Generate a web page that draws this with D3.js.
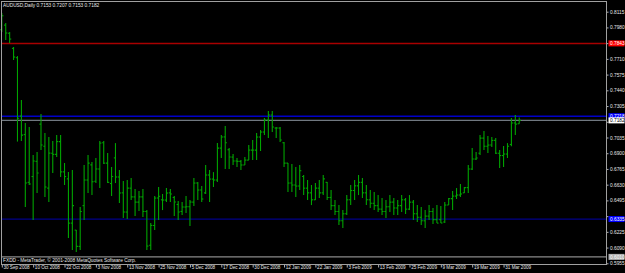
<!DOCTYPE html>
<html lang="en">
<head>
<meta charset="UTF-8">
<title>AUDUSD Daily</title>
<script src="https://d3js.org/d3.v7.min.js"></script>
<style>
    body { margin: 0; background: #000; }
    svg { display: block; }
    text { font-family: "Liberation Sans", Arial, sans-serif; font-size: 4.8px; fill: #e8e8e8; }
</style>
</head>
<body>
<svg width="625" height="273"></svg>
<script>
// daily bars, 30 Sep 2008 .. 6 Apr 2009 (weekdays, no 25 Dec / 1 Jan)
const opens = [
  0.7960,0.8000,0.7930,0.7800,0.7720,0.7219,0.7060,0.6650,0.6700,0.6830,
  0.7150,0.6960,0.6600,0.6900,0.6890,0.7000,0.6740,0.6680,0.6300,0.6240,
  0.6100,0.6450,0.6670,0.6800,0.6660,0.6765,0.6990,0.6815,0.6640,0.6860,
  0.6696,0.6560,0.6395,0.6600,0.6525,0.6480,0.6525,0.6400,0.6110,0.6280,
  0.6515,0.6500,0.6498,0.6560,0.6520,0.6460,0.6400,0.6438,0.6440,0.6480,
  0.6644,0.6584,0.6560,0.6713,0.6678,0.6670,0.6944,0.7040,0.6930,0.6867,
  0.6833,0.6830,0.6799,0.6841,0.6927,0.6927,0.7039,0.7082,0.7185,0.7228,
  0.7116,0.7116,0.6990,0.6815,0.6644,0.6627,0.6618,0.6700,0.6600,0.6560,
  0.6500,0.6600,0.6560,0.6650,0.6520,0.6450,0.6400,0.6320,0.6380,0.6500,
  0.6580,0.6620,0.6650,0.6560,0.6500,0.6470,0.6450,0.6420,0.6400,0.6440,
  0.6480,0.6430,0.6450,0.6500,0.6420,0.6480,0.6380,0.6350,0.6320,0.6360,
  0.6400,0.6330,0.6330,0.6310,0.6455,0.6510,0.6532,0.6541,0.6560,0.6605,
  0.6764,0.6850,0.6900,0.7030,0.6960,0.6970,0.7010,0.6900,0.6880,0.6893,
  0.6975,0.7160,0.7153
];
const highs = [
  0.8103,0.8018,0.7940,0.7812,0.7734,0.7357,0.7159,0.7125,0.6884,0.6910,
  0.7237,0.7073,0.7039,0.7005,0.7056,0.7056,0.6816,0.6738,0.6756,0.6241,
  0.6438,0.6799,0.6884,0.6824,0.6859,0.7005,0.7005,0.6902,0.6781,0.6987,
  0.6756,0.6661,0.6670,0.6687,0.6592,0.6575,0.6592,0.6412,0.6300,0.6532,
  0.6610,0.6550,0.6601,0.6592,0.6532,0.6489,0.6481,0.6532,0.6498,0.6687,
  0.6653,0.6618,0.6799,0.6756,0.6738,0.6987,0.7056,0.7133,0.6944,0.6893,
  0.6859,0.6841,0.6867,0.6970,0.7013,0.7073,0.7099,0.7202,0.7262,0.7262,
  0.7125,0.7125,0.6996,0.6816,0.6807,0.6781,0.6799,0.6713,0.6670,0.6627,
  0.6644,0.6670,0.6713,0.6653,0.6584,0.6498,0.6455,0.6412,0.6541,0.6627,
  0.6670,0.6713,0.6687,0.6627,0.6584,0.6567,0.6541,0.6515,0.6498,0.6541,
  0.6515,0.6498,0.6541,0.6515,0.6541,0.6498,0.6455,0.6438,0.6412,0.6455,
  0.6430,0.6455,0.6447,0.6481,0.6515,0.6575,0.6601,0.6635,0.6610,0.6799,
  0.6944,0.6910,0.7056,0.7090,0.7047,0.7039,0.7030,0.6927,0.6961,0.6987,
  0.7202,0.7228,0.7207
];
const lows = [
  0.7940,0.7872,0.7846,0.7700,0.7000,0.7005,0.6438,0.6627,0.6326,0.6558,
  0.6927,0.6524,0.6481,0.6730,0.6867,0.6696,0.6627,0.6172,0.6069,0.6052,
  0.6069,0.6326,0.6558,0.6541,0.6644,0.6601,0.6807,0.6644,0.6532,0.6644,
  0.6472,0.6343,0.6335,0.6498,0.6361,0.6404,0.6352,0.6069,0.6069,0.6241,
  0.6326,0.6412,0.6481,0.6481,0.6361,0.6326,0.6369,0.6386,0.6275,0.6447,
  0.6498,0.6481,0.6550,0.6481,0.6610,0.6653,0.6859,0.6764,0.6764,0.6799,
  0.6781,0.6756,0.6799,0.6841,0.6841,0.6841,0.6919,0.7056,0.7030,0.7082,
  0.7030,0.6996,0.6781,0.6567,0.6567,0.6524,0.6584,0.6541,0.6498,0.6455,
  0.6498,0.6515,0.6541,0.6498,0.6412,0.6369,0.6284,0.6258,0.6369,0.6455,
  0.6498,0.6541,0.6515,0.6455,0.6430,0.6412,0.6395,0.6369,0.6343,0.6395,
  0.6369,0.6369,0.6395,0.6378,0.6412,0.6326,0.6309,0.6284,0.6258,0.6326,
  0.6292,0.6300,0.6301,0.6301,0.6455,0.6412,0.6507,0.6524,0.6558,0.6558,
  0.6756,0.6841,0.6884,0.6927,0.6901,0.6953,0.6893,0.6773,0.6781,0.6859,
  0.6960,0.7056,0.7153
];
const closes = [
  0.8080,0.7932,0.7880,0.7726,0.7200,0.7055,0.6645,0.6636,0.6833,0.6730,
  0.6970,0.6610,0.6901,0.6890,0.7000,0.6740,0.6700,0.6300,0.6450,0.6100,
  0.6400,0.6670,0.6815,0.6655,0.6765,0.6987,0.6815,0.6650,0.6700,0.6696,
  0.6558,0.6395,0.6600,0.6525,0.6480,0.6525,0.6400,0.6103,0.6280,0.6515,
  0.6530,0.6498,0.6558,0.6550,0.6481,0.6395,0.6438,0.6440,0.6481,0.6644,
  0.6584,0.6507,0.6713,0.6678,0.6670,0.6944,0.7039,0.6990,0.6867,0.6833,
  0.6830,0.6799,0.6841,0.6927,0.6927,0.7039,0.7082,0.7185,0.7228,0.7125,
  0.7116,0.7013,0.6815,0.6644,0.6627,0.6618,0.6750,0.6600,0.6560,0.6500,
  0.6600,0.6560,0.6680,0.6520,0.6450,0.6400,0.6320,0.6380,0.6500,0.6580,
  0.6620,0.6650,0.6560,0.6500,0.6470,0.6450,0.6420,0.6400,0.6440,0.6480,
  0.6430,0.6450,0.6500,0.6420,0.6480,0.6380,0.6350,0.6320,0.6360,0.6400,
  0.6330,0.6300,0.6301,0.6455,0.6510,0.6532,0.6541,0.6550,0.6605,0.6764,
  0.6850,0.6859,0.7030,0.6960,0.6970,0.7010,0.6900,0.6880,0.6893,0.6960,
  0.7160,0.7150,0.7182
];

const priceTicks = [0.8115,0.7980,0.7845,0.7710,0.7575,0.7440,0.7305,0.7170,0.7035,
                    0.6900,0.6765,0.6630,0.6495,0.6360,0.6225,0.6090,0.5955];
const dateLabels = ["30 Sep 2008","10 Oct 2008","22 Oct 2008","3 Nov 2008","13 Nov 2008",
                    "25 Nov 2008","5 Dec 2008","17 Dec 2008","30 Dec 2008","12 Jan 2009",
                    "22 Jan 2009","3 Feb 2009","13 Feb 2009","25 Feb 2009","9 Mar 2009",
                    "19 Mar 2009","31 Mar 2009"];

// horizontal lines drawn on the chart
const hlines = [
    { price: 0.7843, line: "#a80000", w: 1.5, box: "#ff0000", txt: "#ffffff" },
    { price: 0.7218, line: "#0000c8", w: 1.4, box: "#0000ff", txt: "#ffffff" },
    { price: 0.7182, line: "#707880", w: 1.2, box: "#ffffff", txt: "#000000" },
    { price: 0.6335, line: "#000088", w: 1.2, box: "#0000ff", txt: "#ffffff" },
    { price: 0.6010, line: "#8a8a8a", w: 1.2, box: "#b0b0b0", txt: "#ffffff" }
];

// trading days
const days = [];
const hol = ["2008-12-25", "2009-01-01"];
for (let d = new Date(Date.UTC(2008, 8, 30)); days.length < opens.length; d.setUTCDate(d.getUTCDate() + 1)) {
    const wd = d.getUTCDay();
    const iso = d.toISOString().slice(0, 10);
    if (wd === 0 || wd === 6 || hol.includes(iso)) continue;
    days.push(iso);
}
const bars = days.map((day, i) => ({ day, o: opens[i], h: highs[i], l: lows[i], c: closes[i] }));

const svg = d3.select("svg");
svg.append("rect").attr("width", 625).attr("height", 273).attr("fill", "#000");

const frameL = 1.5, frameR = 606.5, frameT = 1.5, frameB = 264.5;
const step = 3.92;

const x = d3.scalePoint()
    .domain(days)
    .range([1.8, 1.8 + step * (days.length - 1)]);

const y = d3.scaleLinear()
    .domain([0.8115, 0.5955])
    .range([11.7, 263.3]);

// header + copyright
svg.append("text").attr("x", 3).attr("y", 7)
    .text("AUDUSD,Daily  0.7153 0.7207 0.7153 0.7182");
svg.append("text").attr("x", 3).attr("y", 262)
    .text("FXDD - MetaTrader, \u00a9 2001-2008 MetaQuotes Software Corp.");

// horizontal lines
svg.append("g").selectAll("line")
    .data(hlines)
    .join("line")
    .attr("x1", frameL).attr("x2", frameR)
    .attr("y1", d => y(d.price))
    .attr("y2", d => y(d.price))
    .attr("stroke", d => d.line)
    .attr("stroke-width", d => d.w);

// bars
const bg = svg.append("g").attr("stroke", "#00a400").attr("stroke-width", 1.1);
bars.forEach(d => {
    const cx = x(d.day);
    bg.append("line").attr("x1", cx).attr("x2", cx).attr("y1", y(d.h)).attr("y2", y(d.l));
    bg.append("line").attr("x1", cx - 1.6).attr("x2", cx).attr("y1", y(d.o)).attr("y2", y(d.o));
    bg.append("line").attr("x1", cx).attr("x2", cx + 1.6).attr("y1", y(d.c)).attr("y2", y(d.c));
});

// price axis (labels hidden under a line box are left out)
const shownTicks = priceTicks.filter(p => hlines.every(h => Math.abs(y(p) - y(h.price)) > 5.5));
const ya = svg.append("g")
    .attr("transform", `translate(${frameR},0)`)
    .call(d3.axisRight(y).tickValues(priceTicks).tickSize(2).tickPadding(1.5)
        .tickFormat(p => shownTicks.includes(p) ? d3.format(".4f")(p) : ""));
ya.select(".domain").remove();
ya.selectAll("line").attr("stroke", "#b0b0b0");
ya.selectAll("text").attr("fill", "#e8e8e8").style("font-size", "4.8px");

// line price boxes
const boxes = svg.append("g").selectAll("g")
    .data(hlines)
    .join("g")
    .attr("transform", d => `translate(${frameR + 2},${y(d.price)})`);
boxes.append("rect")
    .attr("x", 0).attr("y", -3).attr("width", 16).attr("height", 6)
    .attr("fill", d => d.box);
boxes.append("text")
    .attr("x", 1.5).attr("y", 1.7)
    .style("fill", d => d.txt)
    .text(d => d.price.toFixed(4));

// time axis
const tickDays = days.filter((d, i) => i % 8 === 0);
const xa = svg.append("g")
    .attr("transform", `translate(0,${frameB})`)
    .call(d3.axisBottom(x).tickValues(tickDays).tickSize(3).tickFormat((d, i) => dateLabels[i]));
xa.select(".domain").remove();
xa.selectAll("line").attr("stroke", "#b0b0b0");
xa.selectAll("text")
    .attr("fill", "#e8e8e8")
    .attr("text-anchor", "start")
    .attr("x", 1.2)
    .attr("y", 1.5)
    .attr("dy", "0.71em")
    .style("font-size", "4.6px");

// chart frame
svg.append("rect")
    .attr("x", frameL).attr("y", frameT)
    .attr("width", frameR - frameL).attr("height", frameB - frameT)
    .attr("fill", "none")
    .attr("stroke", "#a0a0a0");
</script>
</body>
</html>
